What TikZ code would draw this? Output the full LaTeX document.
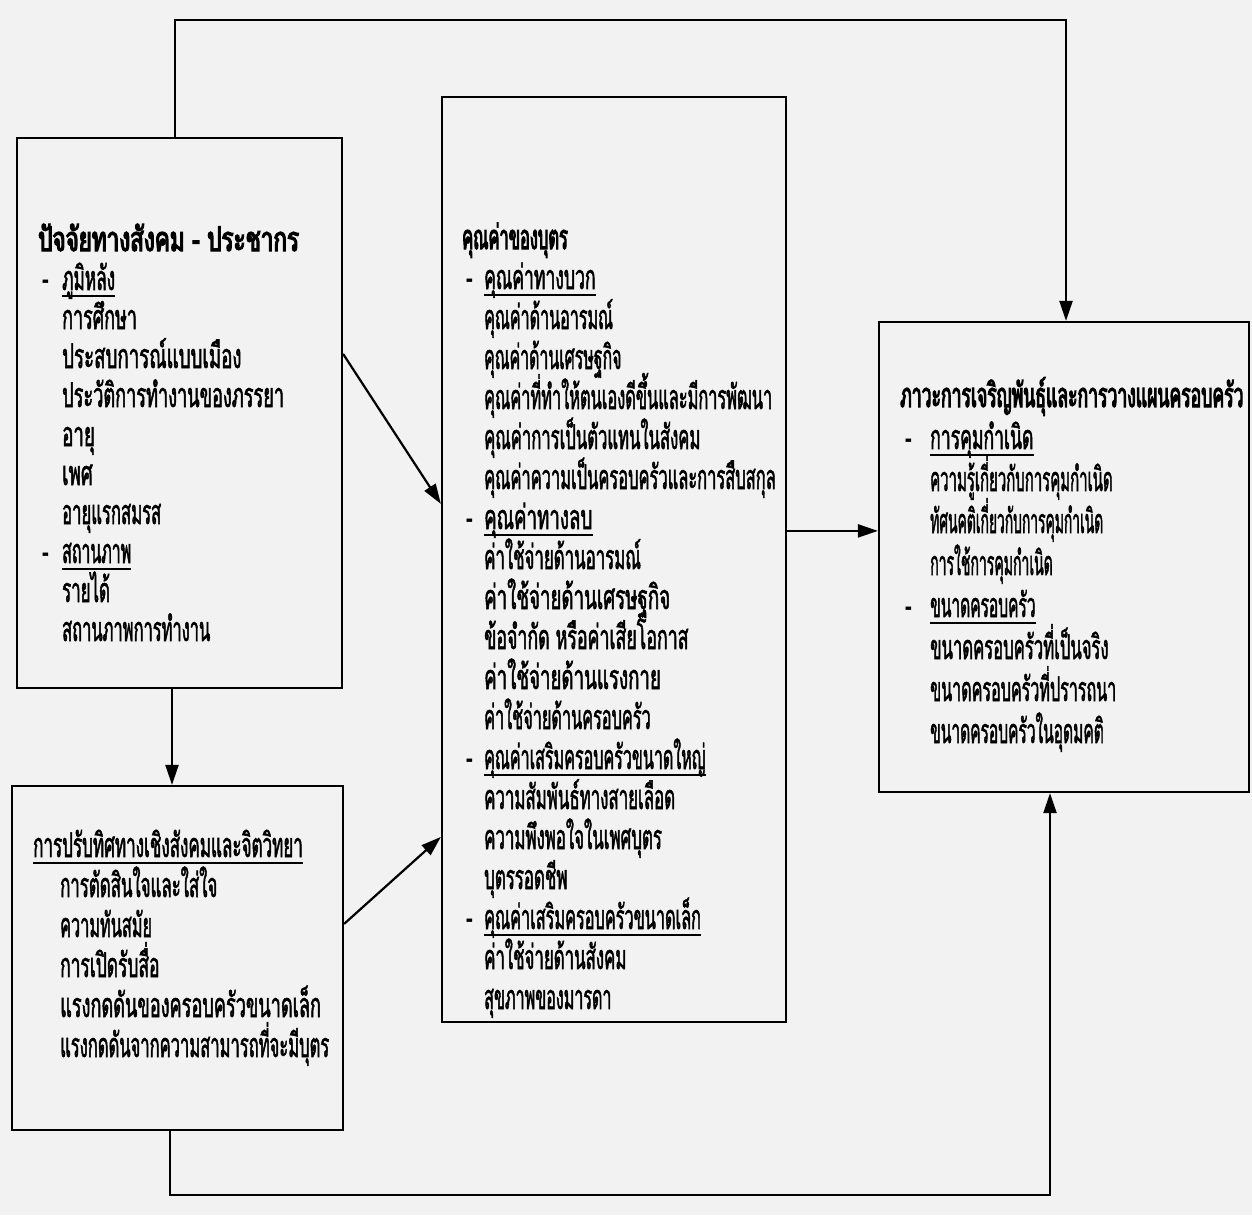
\documentclass[tikz,border=0pt]{standalone}
\usepackage{fontspec}
\usepackage{graphicx}
\newfontfamily\thai[Script=Thai,FakeStretch=0.55,FakeBold=1.5]{Loma}
\newfontfamily\thaib[Script=Thai,FakeStretch=0.55,FakeBold=3.2]{Loma}
\usetikzlibrary{arrows.meta,calc}
\tikzset{
  box/.style={draw, line width=2.2pt, inner sep=0pt},
  conn/.style={line width=2.2pt},
  arr/.style={conn, -{Triangle[length=20pt,width=13pt]}},
  txt/.style={anchor=base west, inner sep=0pt, font=\thai\fontsize{34}{40}\selectfont},
  ttl/.style={txt, font=\thaib\fontsize{34}{40}\selectfont},
  ulline/.style={line width=1.6pt},
}
\newcommand{\sx}[2]{\scalebox{#1}[1]{#2}}
\newcommand{\ulnode}[1]{\draw[ulline] ($(#1.base west)+(0,6)$) -- ($(#1.base east)+(0,6)$);}
\begin{document}
\begin{tikzpicture}[x=1pt,y=-1pt]
\fill[black!5] (0,0) rectangle (1252,1215);
\useasboundingbox (0,0) rectangle (1252,1215);
% boxes
\node[box, minimum width=325pt, minimum height=550pt] (B1) at (179.5,413) {};
\node[box, minimum width=331pt, minimum height=344pt] (B2) at (177.5,958) {};
\node[box, minimum width=344pt, minimum height=925pt] (B3) at (614,559.5) {};
\node[box, minimum width=370pt, minimum height=470pt] (B4) at (1064,557) {};
% box 1 text
\node[ttl] (a0) at (38,251) {\sx{1.2}{ปัจจัยทางสังคม - ประชากร}};
\node[txt] (a1d) at (42,290) {-};
\node[txt] (a1) at (62,290) {\sx{0.92}{ภูมิหลัง}};
\node[txt] (a2) at (62,329) {\sx{0.96}{การศึกษา}};
\node[txt] (a3) at (62,368) {ประสบการณ์แบบเมือง};
\node[txt] (a4) at (62,407) {\sx{0.97}{ประวัติการทำงานของภรรยา}};
\node[txt] (a5) at (62,446) {อายุ};
\node[txt] (a6) at (62,485) {เพศ};
\node[txt] (a7) at (62,524) {\sx{0.89}{อายุแรกสมรส}};
\node[txt] (a8d) at (42,563) {-};
\node[txt] (a8) at (62,563) {\sx{0.85}{สถานภาพ}};
\node[txt] (a9) at (62,602) {\sx{0.9}{รายได้}};
\node[txt] (a10) at (62,641) {\sx{0.88}{สถานภาพการทำงาน}};
\ulnode{a1}\ulnode{a8}
% box 2 text
\node[txt] (b0) at (33,857) {\sx{0.91}{การปรับทิศทางเชิงสังคมและจิตวิทยา}};
\node[txt] (b1) at (60,897) {\sx{0.9}{การตัดสินใจและใส่ใจ}};
\node[txt] (b2) at (60,937) {\sx{0.87}{ความทันสมัย}};
\node[txt] (b3) at (60,977) {\sx{0.93}{การเปิดรับสื่อ}};
\node[txt] (b4) at (60,1017) {\sx{0.97}{แรงกดดันของครอบครัวขนาดเล็ก}};
\node[txt] (b5) at (60,1057) {\sx{0.885}{แรงกดดันจากความสามารถที่จะมีบุตร}};
\ulnode{b0}
% box 3 text
\node[ttl] (c0) at (462,249) {\sx{0.88}{คุณค่าของบุตร}};
\node[txt] (c1d) at (466,289) {-};
\node[txt] (c1) at (484,289) {\sx{0.94}{คุณค่าทางบวก}};
\node[txt] (c2) at (484,329) {\sx{0.86}{คุณค่าด้านอารมณ์}};
\node[txt] (c3) at (484,369) {\sx{0.85}{คุณค่าด้านเศรษฐกิจ}};
\node[txt] (c4) at (484,409) {\sx{0.875}{คุณค่าที่ทำให้ตนเองดีขึ้นและมีการพัฒนา}};
\node[txt] (c5) at (484,449) {\sx{0.89}{คุณค่าการเป็นตัวแทนในสังคม}};
\node[txt] (c6) at (484,489) {\sx{0.88}{คุณค่าความเป็นครอบครัวและการสืบสกุล}};
\node[txt] (c7d) at (466,529) {-};
\node[txt] (c7) at (484,529) {คุณค่าทางลบ};
\node[txt] (c8) at (484,569) {\sx{0.9}{ค่าใช้จ่ายด้านอารมณ์}};
\node[txt] (c9) at (484,609) {ค่าใช้จ่ายด้านเศรษฐกิจ};
\node[txt] (c10) at (484,649) {\sx{0.95}{ข้อจำกัด หรือค่าเสียโอกาส}};
\node[txt] (c11) at (484,689) {ค่าใช้จ่ายด้านแรงกาย};
\node[txt] (c12) at (484,729) {\sx{0.87}{ค่าใช้จ่ายด้านครอบครัว}};
\node[txt] (c13d) at (466,769) {-};
\node[txt] (c13) at (484,769) {\sx{0.86}{คุณค่าเสริมครอบครัวขนาดใหญ่}};
\node[txt] (c14) at (484,809) {\sx{0.9}{ความสัมพันธ์ทางสายเลือด}};
\node[txt] (c15) at (484,849) {\sx{0.9}{ความพึงพอใจในเพศบุตร}};
\node[txt] (c16) at (484,889) {\sx{0.9}{บุตรรอดชีพ}};
\node[txt] (c17d) at (466,929) {-};
\node[txt] (c17) at (484,929) {\sx{0.87}{คุณค่าเสริมครอบครัวขนาดเล็ก}};
\node[txt] (c18) at (484,969) {\sx{0.9}{ค่าใช้จ่ายด้านสังคม}};
\node[txt] (c19) at (484,1009) {\sx{0.86}{สุขภาพของมารดา}};
\ulnode{c1}\ulnode{c7}\ulnode{c13}\ulnode{c17}
% box 4 text
\node[ttl] (d0) at (900,407) {\sx{0.94}{ภาวะการเจริญพันธุ์และการวางแผนครอบครัว}};
\node[txt] (d1d) at (905,449) {-};
\node[txt] (d1) at (930,449) {\sx{0.94}{การคุมกำเนิด}};
\node[txt] (d2) at (930,491) {\sx{0.8}{ความรู้เกี่ยวกับการคุมกำเนิด}};
\node[txt] (d3) at (930,533) {\sx{0.74}{ทัศนคติเกี่ยวกับการคุมกำเนิด}};
\node[txt] (d4) at (930,575) {\sx{0.75}{การใช้การคุมกำเนิด}};
\node[txt] (d5d) at (905,617) {-};
\node[txt] (d5) at (930,617) {\sx{0.83}{ขนาดครอบครัว}};
\node[txt] (d6) at (930,659) {\sx{0.89}{ขนาดครอบครัวที่เป็นจริง}};
\node[txt] (d7) at (930,701) {\sx{0.86}{ขนาดครอบครัวที่ปรารถนา}};
\node[txt] (d8) at (930,743) {\sx{0.83}{ขนาดครอบครัวในอุดมคติ}};
\ulnode{d1}\ulnode{d5}
% connectors
\coordinate (t1) at (175,20);
\coordinate (t2) at (1066,20);
\draw[arr] (B1.north -| t1) -- (t1) -- (t2) -- (B4.north -| t2);
\draw[arr] (B1.south -| 172,0) -- (B2.north -| 172,0);
\draw[arr] ($(B1.north east)+(0,217)$) -- ($(B3.north west)+(0,408)$);
\draw[arr] ($(B2.north east)+(0,139)$) -- ($(B3.north west)+(0,741)$);
\draw[arr] ($(B3.north east)+(0,435)$) -- ($(B4.north west)+(0,210)$);
\coordinate (u1) at (170,1195);
\coordinate (u2) at (1050,1195);
\draw[arr] (B2.south -| u1) -- (u1) -- (u2) -- (B4.south -| u2);
\end{tikzpicture}
\end{document}
